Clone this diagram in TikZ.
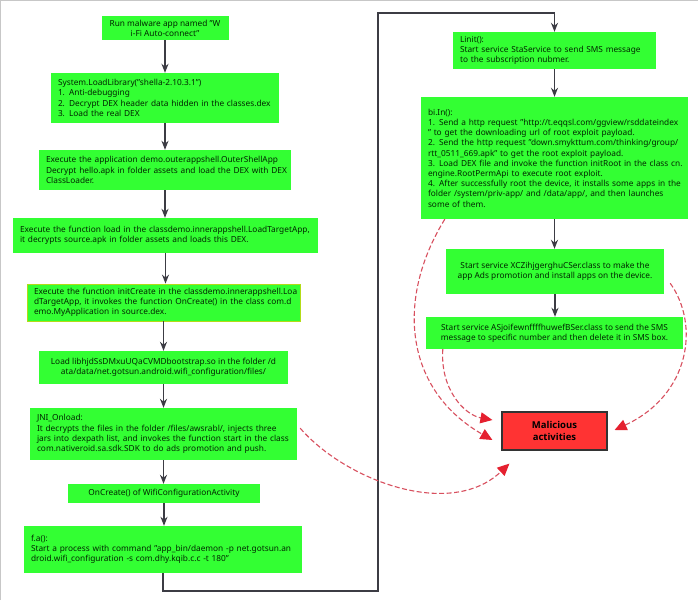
\documentclass[tikz,border=0pt]{standalone}
\usepackage{fontspec}
\setmainfont{Noto Sans}
\newfontfamily\badfont{Open Sans}
\usetikzlibrary{arrows.meta}
\definecolor{boxgreen}{HTML}{33FF33}
\definecolor{badred}{HTML}{FF3333}
\definecolor{flowgray}{HTML}{3C3C44}
\definecolor{dashred}{HTML}{D8505F}
\definecolor{tipred}{HTML}{E5202F}
\tikzset{
  stagebox/.style={fill=boxgreen,inner xsep=7pt,inner ysep=0pt,align=left,text=black!85!green,
    font=\fontsize{8.3}{10.2}\selectfont},
  flow/.style={draw=flowgray,line width=1.3pt,-{Stealth[length=9pt,width=7pt]}},
  leak/.style={draw=dashred,line width=1.1pt,dash pattern=on 5pt off 2.5pt,
    -{Triangle[length=12pt,width=11pt,color=tipred,fill=tipred]}}
}
\begin{document}
\begin{tikzpicture}[x=1pt,y=-1pt]
\useasboundingbox (0,0) rectangle (698,600);
\fill[white] (0,0) rectangle (698,600);
\draw[black!22,line width=1.5pt] (0.7,600) -- (0.7,0.7) -- (698,0.7);
% left column
\node[stagebox,align=center,minimum width=127,minimum height=24] (run) at (165,28) {Run malware app named "W\\i-Fi Auto-connect"};
\node[stagebox,text width=214,minimum height=50] (lib) at (165,98) {System.LoadLibrary("shella-2.10.3.1")\\1. Anti-debugging\\2. Decrypt DEX header data hidden in the classes.dex\\3. Load the real DEX\\[5pt]};
\node[stagebox,text width=238,minimum height=40] (outer) at (165,170) {Execute the application demo.outerappshell.OuterShellApp\\\mbox{Decrypt hello.apk in folder assets and load the DEX with DEX}\\ClassLoader.};
\node[stagebox,text width=291,minimum height=35] (load) at (165.5,235.5) {\mbox{Execute the function load in the classdemo.innerappshell.LoadTargetApp,}\\it decrypts source.apk in folder assets and loads this DEX.};
\node[stagebox,draw=yellow!70!green,line width=.8pt,text width=259,minimum height=37] (init) at (163.5,302.5) {\mbox{Execute the function initCreate in the classdemo.innerappshell.Loa}\\dTargetApp, it invokes the function OnCreate() in the class com.d\\emo.MyApplication in source.dex.};
\node[stagebox,align=center,minimum width=249,minimum height=33] (so) at (163.5,367.5) {Load libhjdSsDMxuUQaCVMDbootstrap.so in the folder /d\\ata/data/net.gotsun.android.wifi\_configuration/files/};
\node[stagebox,text width=253,minimum height=52] (jni) at (163.5,434) {JNI\_Onload:\\It decrypts the files in the folder /files/awsrabl/, injects three\\jars into dexpath list, and invokes the function start in the class\\com.nativeroid.sa.sdk.SDK to do ads promotion and push.};
\node[stagebox,align=center,minimum width=192,minimum height=19] (wifi) at (164,493.5) {OnCreate() of WifiConfigurationActivity};
\node[stagebox,text width=264,minimum height=47] (fa) at (163,549.5) {f.a():\\Start a process with command "app\_bin/daemon -p net.gotsun.an\\droid.wifi\_configuration -s com.dhy.kqib.c.c -t 180"};
% right column
\node[stagebox,text width=189,minimum height=37] (linit) at (554.5,50.5) {Linit():\\Start service StaService to send SMS message\\to the subscription nubmer.};
\node[stagebox,text width=253,minimum height=122] (root) at (554.5,158) {bi.In():\\1. Send a http request "http://t.eqqsl.com/ggview/rsddateindex\\" to get the downloading url of root exploit payload.\\2. Send the http request "down.smykttum.com/thinking/group/\\rtt\_0511\_669.apk" to get the root exploit payload.\\\mbox{3. Load DEX file and invoke the function initRoot in the class cn.}\\engine.RootPermApi to execute root exploit.\\\mbox{4. After successfully root the device, it installs some apps in the}\\folder /system/priv-app/ and /data/app/, and then launches\\some of them.\\[20pt]};
\node[stagebox,align=center,minimum width=218,minimum height=45] (ads) at (555,271.5) {Start service XCZihjgerghuCSer.class to make the\\app Ads promotion and install apps on the device.};
\node[stagebox,align=center,minimum width=257,minimum height=32] (sms) at (554.5,333) {Start service ASjoifewnffffhuwefBSer.class to send the SMS\\message to specific number and then delete it in SMS box.};
\node[draw=black!80,line width=1.2pt,fill=badred,align=center,minimum width=105,minimum height=38,
  font=\badfont\fontsize{9.5}{12.5}\selectfont\bfseries] (bad) at (554.5,431) {Malicious\\activities};
% solid arrows
\foreach \from/\to in {run/lib,lib/outer,outer/load,load/init,init/so,so/jni,jni/wifi,wifi/fa,linit/root,root/ads,ads/sms}
\draw[flow] (\from.south) -- (\from.south |- \to.north);
\draw[flow] (fa.south) -- (163,591) -- (378,591) -- (378,13) -- (linit.north |- 0,13) -- (linit.north);
% dashed arrows
\draw[leak] ([xshift=24]root.south west) .. controls (395,300) and (405,390) .. ([shift={(-9,9)}]bad.west);
\draw[leak] ([shift={(6,-11)}]ads.south east) .. controls (700,325) and (690,395) .. ([shift={(7,-1)}]bad.east);
\draw[leak] ([xshift=17]sms.south west) .. controls (440,390) and (465,415) .. ([shift={(-9,-11)}]bad.west);
\draw[leak] ([shift={(3,-32)}]jni.south east) .. controls (345,480) and (450,520) .. ([shift={(8,13)}]bad.south west);
\end{tikzpicture}
\end{document}
